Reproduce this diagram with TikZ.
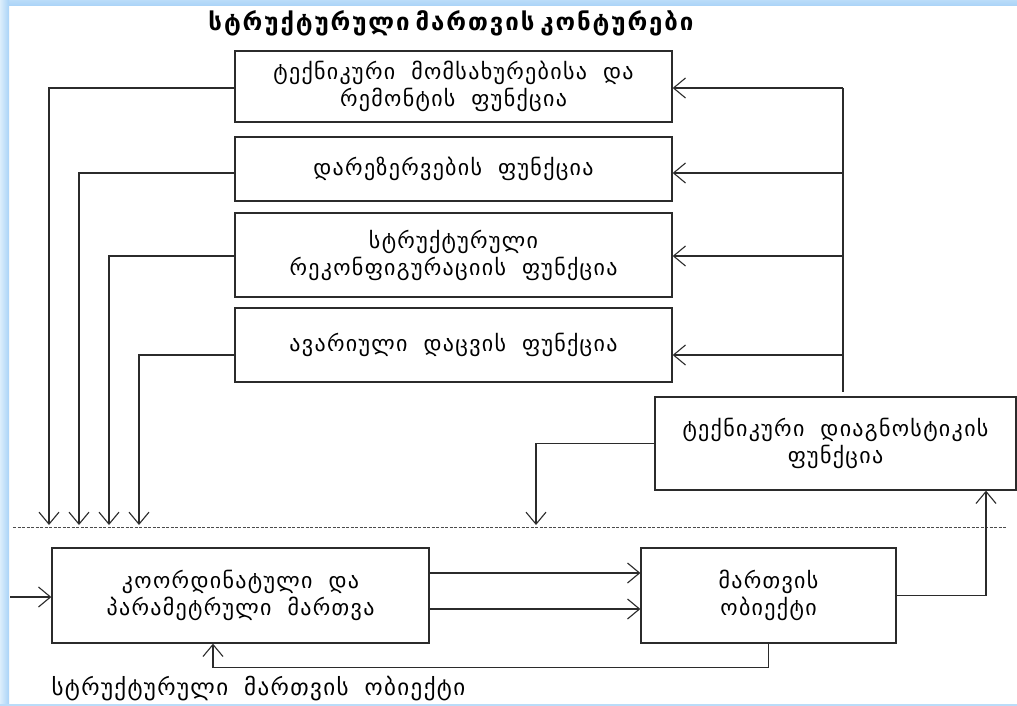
\documentclass[tikz,border=0pt]{standalone}
\usepackage{fontspec}
\setmainfont{DejaVu Sans}
\newfontfamily\geo[LetterSpace=6]{DejaVu Sans}
\newfontfamily\geotitle[LetterSpace=8]{DejaVu Sans}
\newcommand\boxfont{\geo\fontsize{22}{27}\selectfont\spaceskip 16pt\relax}
\newcommand\titlefont{\geotitle\bfseries\fontsize{24}{28}\selectfont\spaceskip 6pt\relax}
\newcommand\capfont{\geo\fontsize{23}{27}\selectfont\spaceskip 16pt\relax}
\usetikzlibrary{arrows.meta,calc}
\definecolor{framebl}{HTML}{A9D3F7}
\definecolor{framelt}{HTML}{DCEEFC}
\definecolor{ink}{HTML}{2B2B2B}
\tikzset{
  fbox/.style={draw=ink,line width=1.3pt,fill=white,inner sep=0pt,align=center,
               font=\boxfont},
  link/.style={draw=ink,line width=1.2pt},
  arr/.style={link,-{Straight Barb[length=12pt,width=20pt,line width=1.1pt]}},
  divider/.style={draw=black!70,line width=0.8pt,dash pattern=on 3pt off 1.5pt}
}
\begin{document}
\begin{tikzpicture}[x=1pt,y=-1pt]
  \useasboundingbox (0,0) rectangle (1017,706);
  \fill[white] (0,0) rectangle (1017,706);
  % window frame
  \shade[top color=framebl!80,bottom color=framebl] (0,0) rectangle (1017,6);
  \shade[left color=framelt,right color=framebl] (0,0) rectangle (9,706);
  \fill[framebl!80] (0,703.5) rectangle (1017,706);

  % title and caption
  \node[font=\titlefont] (title) at (451,23)
    {სტრუქტურული მართვის კონტურები};
  \node[font=\capfont,anchor=west] (caption) at (48,689)
    {სტრუქტურული მართვის ობიექტი};

  % structural control functions
  \node[fbox,minimum width=437pt,minimum height=71pt] (b1) at (453.5,86.5)
    {ტექნიკური მომსახურებისა და\\რემონტის ფუნქცია};
  \node[fbox,minimum width=437pt,minimum height=64pt] (b2) at (453.5,169)
    {დარეზერვების ფუნქცია};
  \node[fbox,minimum width=437pt,minimum height=84pt] (b3) at (453.5,255)
    {სტრუქტურული\\რეკონფიგურაციის ფუნქცია};
  \node[fbox,minimum width=437pt,minimum height=74pt] (b4) at (453.5,345)
    {ავარიული დაცვის ფუნქცია};
  \node[fbox,minimum width=361pt,minimum height=93pt] (diag) at (835.5,443.5)
    {ტექნიკური დიაგნოსტიკის\\ფუნქცია};

  % controlled object level
  \node[fbox,minimum width=377pt,minimum height=95pt] (coord) at (240.5,595.5)
    {კოორდინატული და\\პარამეტრული მართვა};
  \node[fbox,minimum width=255pt,minimum height=95pt] (obj) at (768.5,595.5)
    {მართვის\\ობიექტი};

  % level boundary
  \coordinate (dl) at (13,527);
  \coordinate (dr) at (1007,527);
  \draw[divider] (dl) -- (dr);

  % inputs to the lower level
  \coordinate (d1) at (49,525);
  \coordinate (d2) at (79,525);
  \coordinate (d3) at (109,525);
  \coordinate (d4) at (139,525);
  \coordinate (d5) at (536,525);
  \draw[arr] ([yshift=-1.5pt]b1.west) -| (d1);
  \draw[arr] ([yshift=-4pt]b2.west) -| (d2);
  \draw[arr] ([yshift=-1pt]b3.west) -| (d3);
  \draw[arr] ([yshift=-10pt]b4.west) -| (d4);
  \draw[arr] (diag.west) -| (d5);

  % diagnostic bus
  \coordinate (bustop) at (843,88);
  \coordinate (busbot) at (843,392);
  \draw[link,line width=1.6pt] (bustop) -- (busbot);
  \draw[arr] (bustop) -- ([yshift=-1.5pt]b1.east);
  \draw[arr] (843,173) -- ([yshift=-4pt]b2.east);
  \draw[arr] (843,256) -- ([yshift=-1pt]b3.east);
  \draw[arr] (843,355) -- ([yshift=-10pt]b4.east);

  % object loop
  \coordinate (in) at (10,597);
  \draw[arr] (in) -- ([yshift=-1.5pt]coord.west);
  \draw[arr] ([yshift=22.5pt]coord.east) -- ([yshift=22.5pt]obj.west);
  \draw[arr] ([yshift=-13.5pt]coord.east) -- ([yshift=-13.5pt]obj.west);
  \draw[arr] (obj.east) -| ([xshift=150.5pt]diag.south);
  \draw[arr] (obj.south) -- ++(0,24) -| ([xshift=-27.5pt]coord.south);
\end{tikzpicture}
\end{document}
